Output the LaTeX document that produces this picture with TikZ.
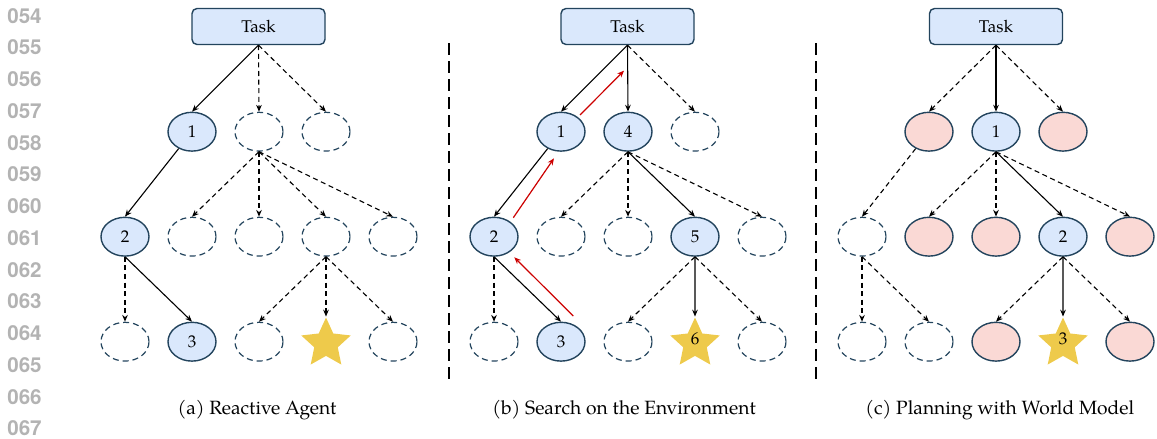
\documentclass[tikz,border=0pt]{standalone}
\usepackage{fontspec}
\setmainfont{TeX Gyre Pagella}
\newfontfamily\linenumfont{TeX Gyre Heros}
\usetikzlibrary{arrows.meta,shapes.geometric,calc}
\definecolor{nodeblue}{HTML}{DAE8FC}
\definecolor{nodeedge}{HTML}{23445D}
\definecolor{nodepink}{HTML}{FAD9D5}
\definecolor{stary}{HTML}{EECA4B}
\definecolor{redarr}{HTML}{CC0000}
\definecolor{lngray}{HTML}{B3B3B3}
\tikzset{
  >={Stealth[length=3.4pt,width=2.8pt]},
  taskbox/.style={draw=nodeedge,fill=nodeblue,rounded corners=2.5pt,line width=0.7pt,
    minimum width=66.5pt,minimum height=18pt,inner sep=0pt,font=\fontsize{8.5}{10}\selectfont},
  bnode/.style={ellipse,draw=nodeedge,fill=nodeblue,line width=0.7pt,minimum width=24pt,
    minimum height=19.4pt,inner sep=0pt,font=\fontsize{8.5}{10}\selectfont},
  pnode/.style={bnode,fill=nodepink},
  enode/.style={ellipse,draw=nodeedge,line width=0.6pt,dash pattern=on 3pt off 2pt,
    minimum width=24pt,minimum height=19.4pt,inner sep=0pt},
  goal/.style={star,star points=5,star point ratio=2.1,fill=stary,minimum size=26pt,
    inner sep=0pt,font=\fontsize{8.5}{10}\selectfont},
  solidarr/.style={->,line width=0.55pt},
  dasharr/.style={->,line width=0.55pt,dash pattern=on 2.5pt off 1.8pt},
  backarr/.style={->,draw=redarr,line width=0.6pt},
  sepline/.style={line width=0.9pt,dash pattern=on 6pt off 3pt},
  caption/.style={font=\fontsize{9.6}{11}\selectfont},
  linenum/.style={text=lngray,font=\linenumfont\bfseries\fontsize{10.3}{12}\selectfont},
}
\newcommand{\raisedlabel}[1]{\raisebox{2.5pt}[\height][\depth]{#1}}
\begin{document}
\begin{tikzpicture}[x=0.5pt,y=-0.5pt]
\useasboundingbox (0,0) rectangle (1157,439);
% line numbers
\foreach \t [count=\k from 0] in {054,055,056,057,058,059,060,061,062,063,064,065,066,067}
  \node[linenum] (ln\k) at (24.5,{15.8+31.75*\k}) {\t};

% ---------------- panel (a)
\node[taskbox] (aT) at (258.5,26.5) {Task};
\node[bnode] (a11) at (192,131.7) {1};
\node[enode] (a12) at (259,131.7) {};
\node[enode] (a13) at (326,131.7) {};
\node[bnode] (a21) at (125,236.7) {2};
\node[enode] (a22) at (192,236.7) {};
\node[enode] (a23) at (259,236.7) {};
\node[enode] (a24) at (326,236.7) {};
\node[enode] (a25) at (393,236.7) {};
\node[enode] (a31) at (125,341.7) {};
\node[bnode] (a32) at (192,341.7) {3};
\node[enode] (a33) at (259,341.7) {};
\node[goal]  (a34) at (326,343.5) {};
\node[enode] (a35) at (393,341.7) {};
\node[caption] (acap) at (257,410) {(a) Reactive Agent};

\draw[solidarr] (aT.south) -- (a11.north);
\draw[dasharr] (aT.south) -- (a12.north);
\draw[dasharr] (aT.south) -- (a13.north);
\draw[solidarr] (a11) -- (a21.north);
\foreach \n in {a22,a23,a24,a25} \draw[dasharr] (a12.south) -- (\n.north);
\draw[dasharr] (a21.south) -- (a31.north);
\draw[solidarr] (a21.south) -- (a32.north);
\foreach \n in {a33,a34,a35} \draw[dasharr] (a24.south) -- (\n.north);

% separator
\coordinate (s1t) at (449.3,43);
\coordinate (s1b) at (449.3,383);
\draw[sepline] (s1t) -- (s1b);

% ---------------- panel (b)
\node[taskbox] (bT) at (627.5,26.5) {Task};
\node[bnode] (b11) at (561,131.7) {1};
\node[bnode] (b12) at (628,131.7) {4};
\node[enode] (b13) at (695,131.7) {};
\node[bnode] (b21) at (494,236.7) {2};
\node[enode] (b22) at (561,236.7) {};
\node[enode] (b23) at (628,236.7) {};
\node[bnode] (b24) at (695,236.7) {5};
\node[enode] (b25) at (762,236.7) {};
\node[enode] (b31) at (494,341.7) {};
\node[bnode] (b32) at (561,341.7) {3};
\node[enode] (b33) at (628,341.7) {};
\node[goal]  (b34) at (695,343.5) {\raisedlabel{6}};
\node[enode] (b35) at (762,341.7) {};
\node[caption] (bcap) at (624,410) {(b) Search on the Environment};

\draw[solidarr] (bT.south) -- (b11.north);
\draw[solidarr] (bT.south) -- (b12.north);
\draw[dasharr] (bT.south) -- (b13.north);
\draw[solidarr] (b11) -- (b21.north);
\draw[dasharr] (b12.south) -- (b22.north);
\draw[dasharr] (b12.south) -- (b23.north);
\draw[solidarr] (b12.south) -- (b24.north);
\draw[dasharr] (b12.south) -- (b25.north);
\draw[dasharr] (b21.south) -- (b31.north);
\draw[solidarr] (b21.south) -- (b32.north);
\draw[dasharr] (b24.south) -- (b33.north);
\draw[solidarr] (b24.south) -- (b34.north);
\draw[dasharr] (b24.south) -- (b35.north);

% backtracking arrows
\coordinate (r1s) at (573.3,316);
\coordinate (r1e) at (514.3,257.3);
\coordinate (r2s) at (513.3,217.7);
\coordinate (r2e) at (554,158.3);
\coordinate (r3s) at (580,115);
\coordinate (r3e) at (624,70.7);
\draw[backarr] (r1s) -- (r1e);
\draw[backarr] (r2s) -- (r2e);
\draw[backarr] (r3s) -- (r3e);

% separator
\coordinate (s2t) at (816,43);
\coordinate (s2b) at (816,383);
\draw[sepline] (s2t) -- (s2b);

% ---------------- panel (c)
\node[taskbox] (cT) at (996,26.5) {Task};
\node[pnode] (c11) at (929,131.7) {};
\node[bnode] (c12) at (996,131.7) {1};
\node[pnode] (c13) at (1063,131.7) {};
\node[enode] (c21) at (862,236.7) {};
\node[pnode] (c22) at (929,236.7) {};
\node[pnode] (c23) at (996,236.7) {};
\node[bnode] (c24) at (1063,236.7) {2};
\node[pnode] (c25) at (1130,236.7) {};
\node[enode] (c31) at (862,341.7) {};
\node[enode] (c32) at (929,341.7) {};
\node[pnode] (c33) at (996,341.7) {};
\node[goal]  (c34) at (1063,343.5) {\raisedlabel{3}};
\node[pnode] (c35) at (1130,341.7) {};
\node[caption] (ccap) at (999.8,410) {(c) Planning with World Model};

\draw[dasharr] (cT.south) -- (c11.north);
\draw[solidarr] (cT.south) -- (c12.north);
\draw[dasharr] (cT.south) -- (c13.north);
\draw[dasharr] (c11) -- (c21.north);
\draw[dasharr] (c12.south) -- (c22.north);
\draw[dasharr] (c12.south) -- (c23.north);
\draw[solidarr] (c12.south) -- (c24.north);
\draw[dasharr] (c12.south) -- (c25.north);
\draw[dasharr] (c21.south) -- (c31.north);
\draw[dasharr] (c21.south) -- (c32.north);
\draw[dasharr] (c24.south) -- (c33.north);
\draw[solidarr] (c24.south) -- (c34.north);
\draw[dasharr] (c24.south) -- (c35.north);
\end{tikzpicture}
\end{document}
